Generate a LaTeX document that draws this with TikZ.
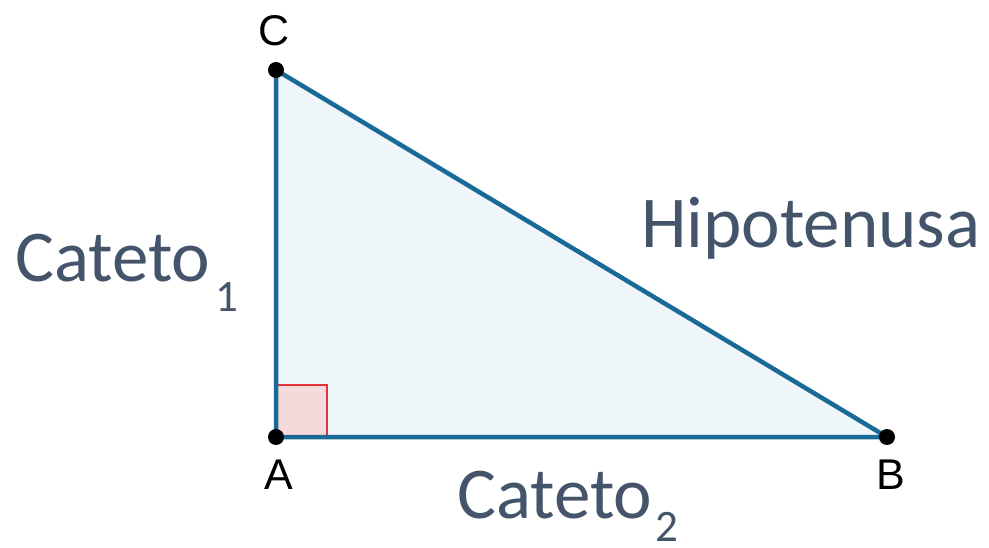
\documentclass[tikz,border=0pt]{standalone}
\usepackage{fontspec}
\setmainfont{Carlito}
\newfontfamily\arialf{Liberation Sans}
\definecolor{txt}{HTML}{44546A}
\definecolor{edge}{HTML}{1A6A98}
\definecolor{tri}{HTML}{EFF6F9}
\definecolor{ang}{HTML}{F6DADB}
\definecolor{angr}{HTML}{E5323B}
\tikzset{
  vtx/.style={circle,fill=black,inner sep=0pt,minimum size=16pt},
  vlab/.style={font=\arialf\fontsize{43}{43}\selectfont,text=black,inner sep=0pt},
  big/.style={font=\fontsize{73}{73}\selectfont,text=txt,inner sep=0pt,anchor=base west},
  sub/.style={font=\fontsize{45}{45}\selectfont,text=txt,inner sep=0pt,text depth=0pt,anchor=base west},
}
\begin{document}
\begin{tikzpicture}[x=1pt,y=-1pt]
\useasboundingbox (0,0) rectangle (989,548);
\coordinate (A) at (276,437);
\coordinate (B) at (887,437);
\coordinate (C) at (276,70);
\fill[tri] (A) -- (B) -- (C) -- cycle;
\filldraw[fill=ang,draw=angr,line width=2pt] (276,385) -- (327,385) -- (327,437);
\fill[ang] (277,386) rectangle (326,435);
\draw[edge,line width=4.5pt,line join=round] (A) -- (B) -- (C) -- cycle;
\node[vtx] (dA) at (A) {};
\node[vtx] (dB) at (B) {};
\node[vtx] (dC) at (C) {};
\node[vlab] (lC) at (274,31) {C};
\node[vlab] (lA) at (279,475) {A};
\node[vlab] (lB) at (891,475) {B};
\node[big] (c1) at (15,282) {Cateto};
\node[sub] (s1) at (215,312) {1};
\node[big] (hy) at (641,248) {Hipotenusa};
\node[big] (c2) at (457,518) {Cateto};
\node[sub] (s2) at (655,541) {2};
\end{tikzpicture}
\end{document}
